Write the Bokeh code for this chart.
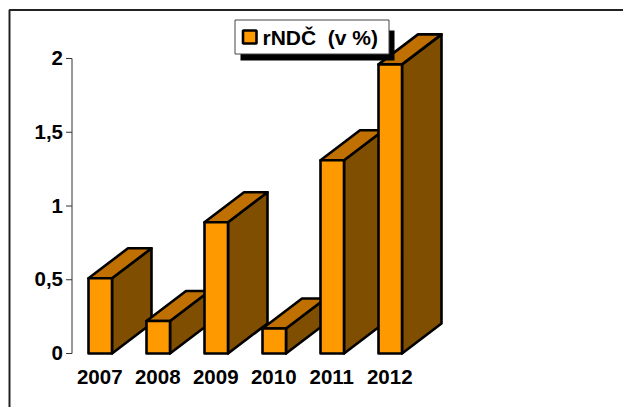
from bokeh.plotting import figure
from bokeh.models import Range1d
from bokeh.core.properties import value
from bokeh.embed import file_html
from bokeh.resources import INLINE

years = ["2007", "2008", "2009", "2010", "2011", "2012"]
values = [0.51, 0.22, 0.89, 0.17, 1.31, 1.96]
ticks = [0, 0.5, 1, 1.5, 2]
tick_labels = {0: "0", 0.5: "0,5", 1: "1", 1.5: "1,5", 2: "2"}
legend_text = "rNDČ \u00a0(v %)"

FRONT = "#FF9900"
TOP = "#C07000"
SIDE = "#804E00"
FONT = value("Liberation Sans")
W, H = 623, 407
PX_Y = 147.5
Y0 = 353
X_AXIS = 71.5
LW = 2.6

p = figure(width=W, height=H, output_backend="svg", toolbar_location=None,
           min_border=0, x_range=Range1d(0, W), y_range=Range1d(H, 0))
p.xaxis.visible = False
p.yaxis.visible = False
p.grid.visible = False
p.outline_line_color = None
p.background_fill_color = "white"
p.border_fill_color = "white"

# frame: left and top edges only are visible in the reference
p.line([9, 9, 623], [407, 9.5, 9.5], line_color="#222222", line_width=2)

def yp(v):
    return Y0 - v * PX_Y

p.segment([X_AXIS], [yp(ticks[0])], [X_AXIS], [yp(ticks[-1])], line_color="#333333", line_width=1)
p.segment([X_AXIS - 6] * len(ticks), [yp(t) for t in ticks], [X_AXIS] * len(ticks),
          [yp(t) for t in ticks], line_color="#333333", line_width=1)
p.text([X_AXIS - 9] * len(ticks), [yp(t) - 0.5 for t in ticks], text=[tick_labels[t] for t in ticks],
       text_font=FONT, text_font_style="bold", text_font_size="20.5px", text_align="right",
       text_baseline="middle", text_color="black")

BAR_W, DX, DY, STEP, X0 = 23.5, 39.5, 30, 58, 88
for i, (y, v) in enumerate(zip(years, values)):
    l = X0 + i * STEP
    r = l + BAR_W
    t = yp(v)
    p.patch([r, r + DX, r + DX, r], [Y0, Y0 - DY, t - DY, t], fill_color=SIDE,
            line_color="black", line_width=LW, line_join="round")
    p.patch([l, l + DX, r + DX, r], [t, t - DY, t - DY, t], fill_color=TOP,
            line_color="black", line_width=LW, line_join="round")
    p.patch([l, r, r, l], [Y0, Y0, t, t], fill_color=FRONT, line_color="black",
            line_width=LW, line_join="round")
    p.text([l + BAR_W / 2 - 0.5], [376], text=[y], text_font=FONT, text_font_style="bold",
           text_font_size="20.5px", text_align="center", text_baseline="middle",
           text_color="black")

# legend
p.quad(left=[240], right=[394], top=[30], bottom=[60], fill_color="black", line_color=None)
p.quad(left=[234.5], right=[388.5], top=[19.5], bottom=[53.5], fill_color="white",
       line_color="#444444", line_width=1)
p.quad(left=[242.5], right=[256], top=[30], bottom=[43], fill_color=FRONT, line_color="black",
       line_width=LW)
p.text([262], [36.5], text=[legend_text], text_font=FONT, text_font_style="bold",
       text_font_size="21px", text_baseline="middle", text_color="black")

open("out.html", "w").write(file_html(p, INLINE))
